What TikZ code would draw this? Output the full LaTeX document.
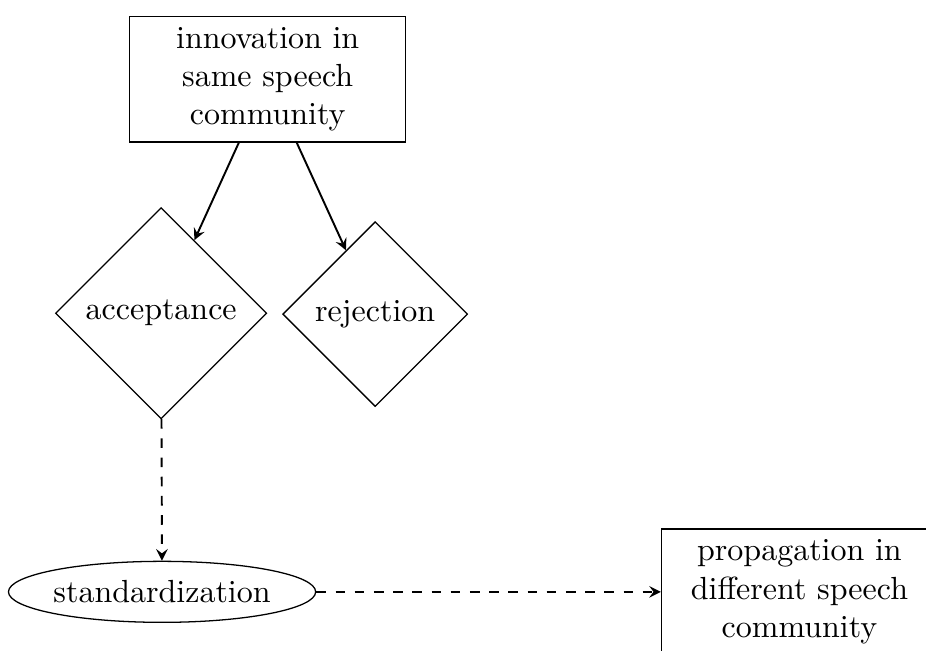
\documentclass[tikz,border=0pt]{standalone}
\usetikzlibrary{shapes.geometric}
\begin{document}
\begin{tikzpicture}[box/.style={draw,rectangle,align=center,minimum width=3.03cm,minimum height=1.38cm},
  choice/.style={draw,diamond,inner sep=0pt},
  oval/.style={draw,ellipse,inner sep=0pt,minimum width=3.3cm,minimum height=0.67cm},
  >=stealth]
  \clip (0,0) rectangle (10.17,-7.14);
  \path (2.94,-0.87) node[box] (inn) {innovation in\\ same speech\\ community}
  (1.77,-3.44) node[choice,minimum size=2.32cm] (acc) {acceptance}
  (4.12,-3.45) node[choice,minimum size=2.03cm] (rej) {rejection}
  (1.78,-6.5) node[oval] (std) {standardization}
  (8.78,-6.5) node[box] (prop) {propagation in\\ different speech\\ community};
  \draw[->,semithick] (inn) -- (acc);
  \draw[->,semithick] (inn) -- (rej);
  \draw[->,semithick,dashed] (acc) -- (std);
  \draw[->,semithick,dashed] (std) -- (prop);
\end{tikzpicture}
\end{document}
